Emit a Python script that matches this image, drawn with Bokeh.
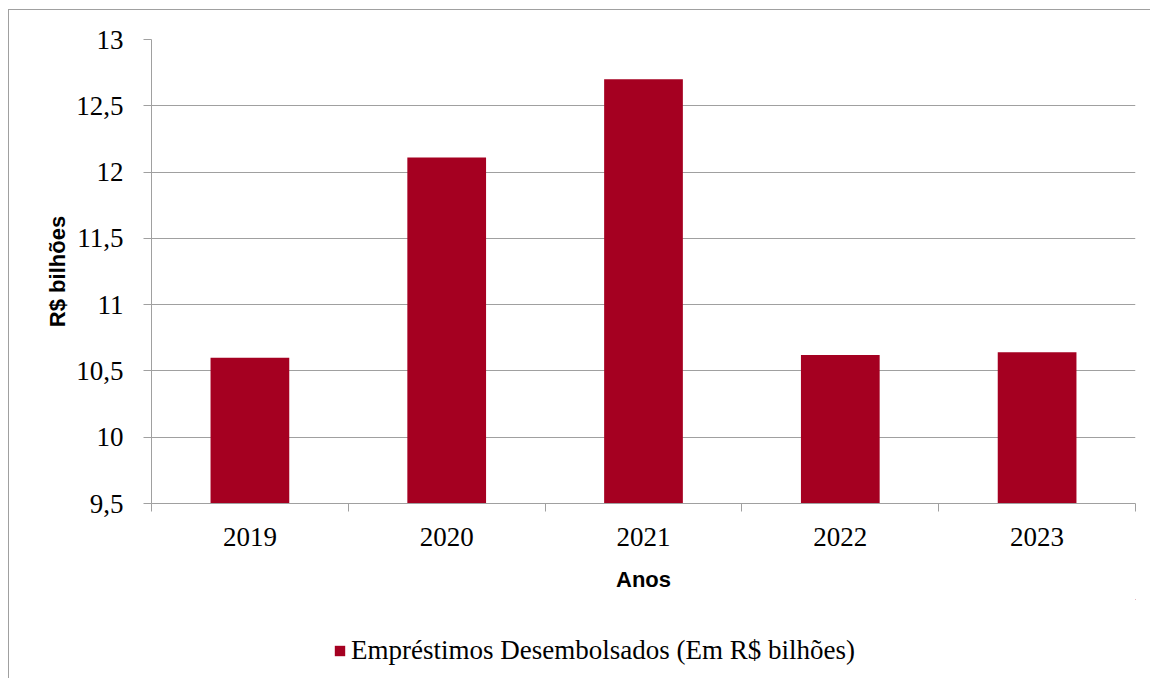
from bokeh.plotting import figure
from bokeh.layouts import column
from bokeh.models import FixedTicker, Legend, LegendItem, Range1d, ColumnDataSource
from bokeh.embed import file_html
from bokeh.resources import INLINE

years = ["2019", "2020", "2021", "2022", "2023"]
values = [10.60, 12.11, 12.70, 10.62, 10.64]
y_ticks = [9.5, 10.0, 10.5, 11.0, 11.5, 12.0, 12.5, 13.0]
y_tick_labels = ["9,5", "10", "10,5", "11", "11,5", "12", "12,5", "13"]
series_name = "Empréstimos Desembolsados (Em R$ bilhões)"
x_title = "Anos"
y_title = "R$ bilhões"

xs = [i + 0.5 for i in range(len(years))]
src = ColumnDataSource(dict(x=xs, top=values, year=years))

SERIF = "Liberation Serif"
SANS = "Liberation Sans"
GRAY = "#a0a0a0"
BAR = "#a50021"
FS = "27px"

p = figure(width=1141, height=589,
           x_range=Range1d(0, len(years)), y_range=Range1d(y_ticks[0], y_ticks[-1]),
           output_backend="svg", toolbar_location=None,
           min_border_left=142, min_border_top=29, min_border_right=15, min_border_bottom=96)

r = p.vbar(x="x", top="top", bottom=y_ticks[0], width=0.4, source=src,
           fill_color=BAR, line_color=None)

p.outline_line_color = None
p.xgrid.grid_line_color = None
p.ygrid.grid_line_color = GRAY
p.ygrid.ticker = FixedTicker(ticks=y_ticks)

# y axis
ya = p.yaxis[0]
ya.ticker = FixedTicker(ticks=y_ticks)
ya.major_label_overrides = {t: l for t, l in zip(y_ticks, y_tick_labels)}
ya.minor_tick_line_color = None
ya.major_tick_in = 0
ya.major_tick_out = 8
ya.major_tick_line_color = GRAY
ya.axis_line_color = GRAY
ya.major_label_text_font = SERIF
ya.major_label_text_font_size = FS
ya.major_label_text_color = "black"
ya.major_label_standoff = 20
ya.axis_label = y_title
ya.axis_label_text_font = SANS
ya.axis_label_text_font_style = "bold"
ya.axis_label_text_font_size = "22px"
ya.axis_label_text_color = "black"
ya.axis_label_standoff = 3

# x axis
xa = p.xaxis[0]
xa.ticker = FixedTicker(ticks=xs, minor_ticks=list(range(len(years) + 1)))
xa.major_label_overrides = {x: y for x, y in zip(xs, years)}
xa.major_tick_in = 0
xa.major_tick_out = 0
xa.minor_tick_in = 0
xa.minor_tick_out = 8
xa.minor_tick_line_color = GRAY
xa.axis_line_color = GRAY
xa.major_label_text_font = SERIF
xa.major_label_text_font_size = FS
xa.major_label_text_color = "black"
xa.major_label_standoff = 16
xa.axis_label = x_title
xa.axis_label_text_font = SANS
xa.axis_label_text_font_style = "bold"
xa.axis_label_text_font_size = "22px"
xa.axis_label_text_color = "black"
xa.axis_label_standoff = 18

# legend strip below the chart (its own bar renderer lies far outside the strip's view)
pl = figure(width=1141, height=79, output_backend="svg", toolbar_location=None,
            x_range=Range1d(-1000, -999), y_range=Range1d(-1000, -999),
            x_axis_location=None, y_axis_location=None, min_border=0)
pl.grid.visible = False
pl.outline_line_color = None
lr = pl.vbar(x="x", top="top", bottom=y_ticks[0], width=0.4, source=src,
             fill_color=BAR, line_color=None)
legend = Legend(items=[LegendItem(label=series_name, renderers=[lr])],
                location=(182, 12), orientation="horizontal",
                glyph_width=13, glyph_height=13, label_standoff=5,
                padding=0, margin=0, border_line_color=None, background_fill_alpha=0,
                label_text_font=SERIF, label_text_font_size=FS, label_text_color="black")
pl.add_layout(legend, "center")

layout = column(p, pl, spacing=0)
layout.styles = {"border-left": "1px solid #a0a0a0", "border-top": "1px solid #a0a0a0",
                 "margin-top": "9px", "margin-left": "8px"}

open("out.html", "w").write(file_html(layout, INLINE))
